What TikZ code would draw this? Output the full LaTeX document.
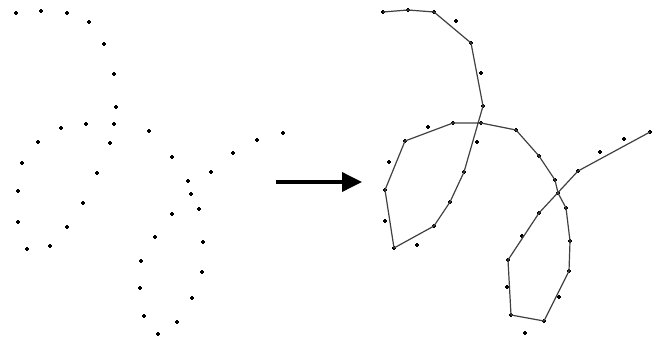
\documentclass[tikz,border=0pt]{standalone}
\usetikzlibrary{arrows.meta,calc}
\begin{document}
\begin{tikzpicture}[x=1pt,y=-1pt,
  dotmark/.style={line width=1.2pt,black},
  dotcore/.style={fill=black},
  curveline/.style={line width=1.2pt,black!75,line join=round},
  bigarrow/.style={line width=3.6pt,-{Triangle[length=20pt,width=19pt]}}]
\useasboundingbox (0,0) rectangle (663,343);
% left point cloud and the same points on the right
\foreach \n/\x/\y in {1/16/13,2/41/11,3/67/13,4/89/22,5/104/44,6/114/74,7/116/107,8/114/124,
  9/86/124,10/61/128,11/38/142,12/110/143,13/149/131,14/172/157,15/233/153,16/257/140,
  17/283/133,18/22/163,19/97/173,20/211/172,21/18/191,22/188/181,23/191/194,24/83/203,
  25/199/209,26/172/214,27/18/222,28/67/227,29/155/237,30/203/242,31/27/249,32/50/246,
  33/141/261,34/202/272,35/140/288,36/192/298,37/144/316,38/177/322,39/158/334}{
  \coordinate (L\n) at (\x,\y);
  \coordinate (R\n) at (\x+367,\y-1);
  \draw[dotmark] ($(L\n)+(-1.9,0)$) -- ($(L\n)+(1.9,0)$) ($(L\n)+(0,-1.9)$) -- ($(L\n)+(0,1.9)$);
  \fill[dotcore] (L\n) circle (1.1);
  \draw[dotmark] ($(R\n)+(-1.9,0)$) -- ($(R\n)+(1.9,0)$) ($(R\n)+(0,-1.9)$) -- ($(R\n)+(0,1.9)$);
  \fill[dotcore] (R\n) circle (1.1);
}
% fitted curve
\draw[curveline] (R1) -- (R2) -- (R3) -- (R5) -- (R7) -- (R19) -- (R24) -- (R28) -- (R31)
  -- (R21) -- (R11) -- (R9) -- (R8) -- (R13) -- (R14) -- (R22) -- (R23) -- (R25) -- (R30)
  -- (R34) -- (R38) -- (R37) -- (R33) -- (R26) -- (R20) -- (R17);
% arrow
\coordinate (A1) at (276,182);
\coordinate (A2) at (362,182);
\draw[bigarrow] (A1) -- (A2);
\end{tikzpicture}
\end{document}
